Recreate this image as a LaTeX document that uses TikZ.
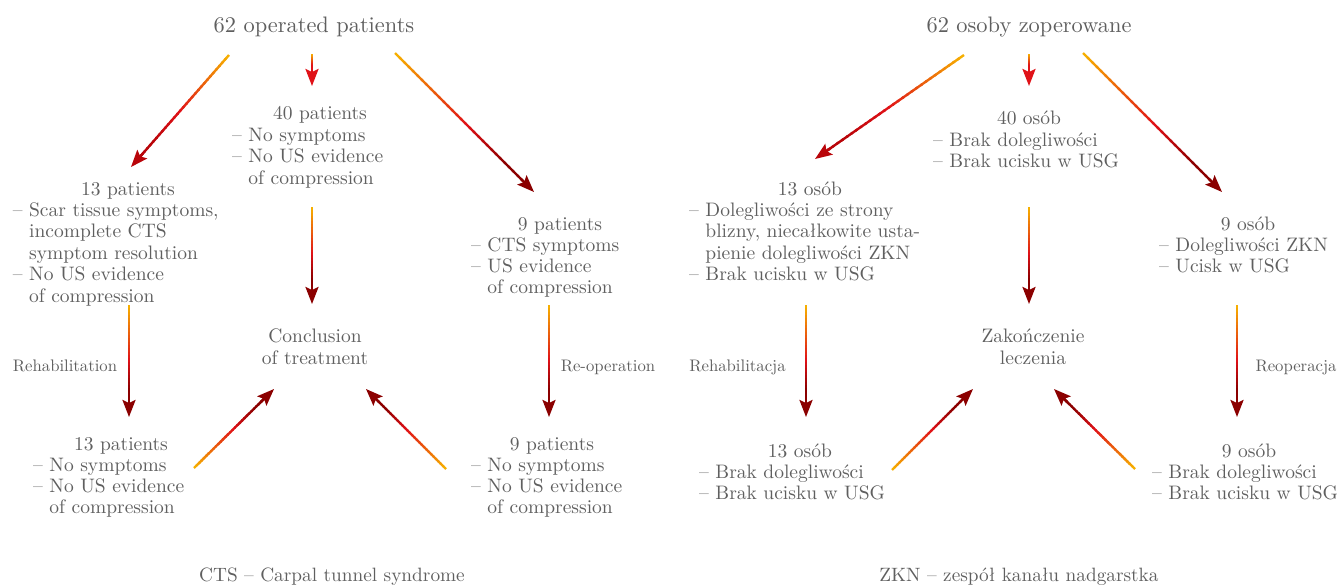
\documentclass[tikz,border=0pt]{standalone}
\usepackage{fontspec}
\setmainfont{lmroman10-regular}[Extension=.otf]
\usetikzlibrary{calc,arrows.meta}
\definecolor{textgray}{RGB}{95,95,95}
\definecolor{arrorange}{RGB}{247,180,0}
\definecolor{arrred}{RGB}{224,18,24}
\definecolor{arrmid}{RGB}{185,5,10}
\definecolor{arrdark}{RGB}{139,0,0}
% gradient arrow: [end colour]{start}{end}
\newcommand{\gradarrow}[3][arrdark]{%
  \foreach \gI in {0,...,29}{%
    \pgfmathsetmacro\gT{(\gI+0.5)/30}%
    \pgfmathtruncatemacro\gH{\gT<0.55}%
    \ifnum\gH=1
      \pgfmathsetmacro\gP{100*\gT/0.55}%
      \colorlet{segc}{arrred!\gP!arrorange}%
    \else
      \pgfmathsetmacro\gP{min(100*(\gT-0.55)/0.3,100)}%
      \colorlet{segc}{#1!\gP!arrred}%
    \fi
    \pgfmathsetmacro\gA{\gI/30}%
    \pgfmathsetmacro\gB{min((\gI+1.4)/30,1)}%
    \draw[segc, line width=2.4pt] ($(#2)!\gA!($(#3)!12pt!(#2)$)$) -- ($(#2)!\gB!($(#3)!12pt!(#2)$)$);
  }%
  \draw[#1, line width=2.4pt, -{Stealth[length=17pt,width=13pt,inset=3pt]}] ($(#3)!19pt!(#2)$) -- (#3);
}
\begin{document}
\begin{tikzpicture}[x=1pt,y=-1pt,
  txt/.style={text=textgray, inner sep=0pt, font=\fontsize{19.5}{21.3}\selectfont},
  lst/.style={txt, align=left, anchor=base west},
  hdr/.style={txt, align=center, anchor=base},
  ttl/.style={text=textgray, inner sep=0pt, anchor=base, font=\fontsize{22.4}{26}\selectfont},
  lbl/.style={text=textgray, inner sep=0pt, anchor=base, font=\fontsize{16.7}{20}\selectfont},
  ftr/.style={text=textgray, inner sep=0pt, anchor=base, font=\fontsize{19.3}{22}\selectfont}]
\useasboundingbox (0,0) rectangle (1339,584);

% ---------- left panel (multi-line nodes: base = last line) ----------
\node[ttl] (t1) at (314,32) {62 operated patients};
\node[hdr] (h40) at (320,119) {40 patients};
\node[lst] (l40) at (232,184) {– No symptoms\\– No US evidence\\\phantom{– }of compression};
\node[hdr] (h13a) at (128,195) {13 patients};
\node[lst, font=\fontsize{19.5}{21.5}\selectfont] (l13a) at (12.7,302) {– Scar tissue symptoms,\\\phantom{– }incomplete CTS\\\phantom{– }symptom resolution\\– No US evidence\\\phantom{– }of compression};
\node[lbl] (rehab) at (65,371) {Rehabilitation};
\node[hdr] (concl) at (315,364) {Conclusion\\of treatment};
\node[hdr] (h13b) at (121,450) {13 patients};
\node[lst] (l13b) at (33,513.6) {– No symptoms\\– No US evidence\\\phantom{– }of compression};
\node[hdr] (h9a) at (560,230) {9 patients};
\node[lst] (l9a) at (471,293.6) {– CTS symptoms\\– US evidence\\\phantom{– }of compression};
\node[lbl] (reop) at (608,371) {Re-operation};
\node[hdr] (h9b) at (552,450) {9 patients};
\node[lst] (l9b) at (471,513.6) {– No symptoms\\– No US evidence\\\phantom{– }of compression};
\node[ftr] (f1) at (332,581) {CTS – Carpal tunnel syndrome};

\coordinate (a1s) at (229,55);  \coordinate (a1e) at (131,167);
\coordinate (a2s) at (312,54);  \coordinate (a2e) at (312,86);
\coordinate (a3s) at (395,53);  \coordinate (a3e) at (534,192);
\coordinate (a4s) at (312,207); \coordinate (a4e) at (312,304);
\coordinate (a5s) at (129,305); \coordinate (a5e) at (129,417);
\coordinate (a6s) at (549,305); \coordinate (a6e) at (549,417);
\coordinate (a7s) at (194,468); \coordinate (a7e) at (274,389);
\coordinate (a8s) at (446,469); \coordinate (a8e) at (366,389);
\gradarrow[arrmid]{a1s}{a1e}
\gradarrow[arrred]{a2s}{a2e}
\gradarrow{a3s}{a3e}
\gradarrow{a4s}{a4e}
\gradarrow{a5s}{a5e}
\gradarrow{a6s}{a6e}
\gradarrow{a7s}{a7e}
\gradarrow{a8s}{a8e}

% ---------- right panel ----------
\node[ttl] (t2) at (1029,32) {62 osoby zoperowane};
\node[hdr] (h40r) at (1029,124.5) {40 osób};
\node[lst] (l40r) at (933,167.3) {– Brak dolegliwości\\– Brak ucisku w USG};
\node[hdr] (h13r) at (810,195) {13 osób};
\node[lst] (l13r) at (689,280.4) {– Dolegliwości ze strony\\\phantom{– }blizny, niecałkowite usta-\\\phantom{– }pienie dolegliwości ZKN\\– Brak ucisku w USG};
\node[lbl] (rehr) at (737.5,371) {Rehabilitacja};
\node[hdr] (zak) at (1033,364) {Zakończenie\\leczenia};
\node[lbl] (reopr) at (1296,371) {Reoperacja};
\node[hdr] (h9r) at (1248,230) {9 osób};
\node[lst] (l9r) at (1159,272.8) {– Dolegliwości ZKN\\– Ucisk w USG};
\node[hdr] (h13rb) at (800,457) {13 osób};
\node[lst] (l13rb) at (699,499.3) {– Brak dolegliwości\\– Brak ucisku w USG};
\node[hdr] (h9rb) at (1249,457) {9 osób};
\node[lst] (l9rb) at (1152,499.3) {– Brak dolegliwości\\– Brak ucisku w USG};
\node[ftr] (f2) at (1019,581) {ZKN – zespół kanału nadgarstka};

\coordinate (b1s) at (964,55);   \coordinate (b1e) at (815,159);
\coordinate (b2s) at (1029,54);  \coordinate (b2e) at (1029,86);
\coordinate (b3s) at (1083,53);  \coordinate (b3e) at (1222,192);
\coordinate (b4s) at (1029,207); \coordinate (b4e) at (1029,304);
\coordinate (b5s) at (806,305);  \coordinate (b5e) at (806,417);
\coordinate (b6s) at (1237,305); \coordinate (b6e) at (1237,417);
\coordinate (b7s) at (892,470);  \coordinate (b7e) at (973,389);
\coordinate (b8s) at (1135,469); \coordinate (b8e) at (1054,389);
\gradarrow[arrmid]{b1s}{b1e}
\gradarrow[arrred]{b2s}{b2e}
\gradarrow{b3s}{b3e}
\gradarrow{b4s}{b4e}
\gradarrow{b5s}{b5e}
\gradarrow{b6s}{b6e}
\gradarrow{b7s}{b7e}
\gradarrow{b8s}{b8e}
\end{tikzpicture}
\end{document}
